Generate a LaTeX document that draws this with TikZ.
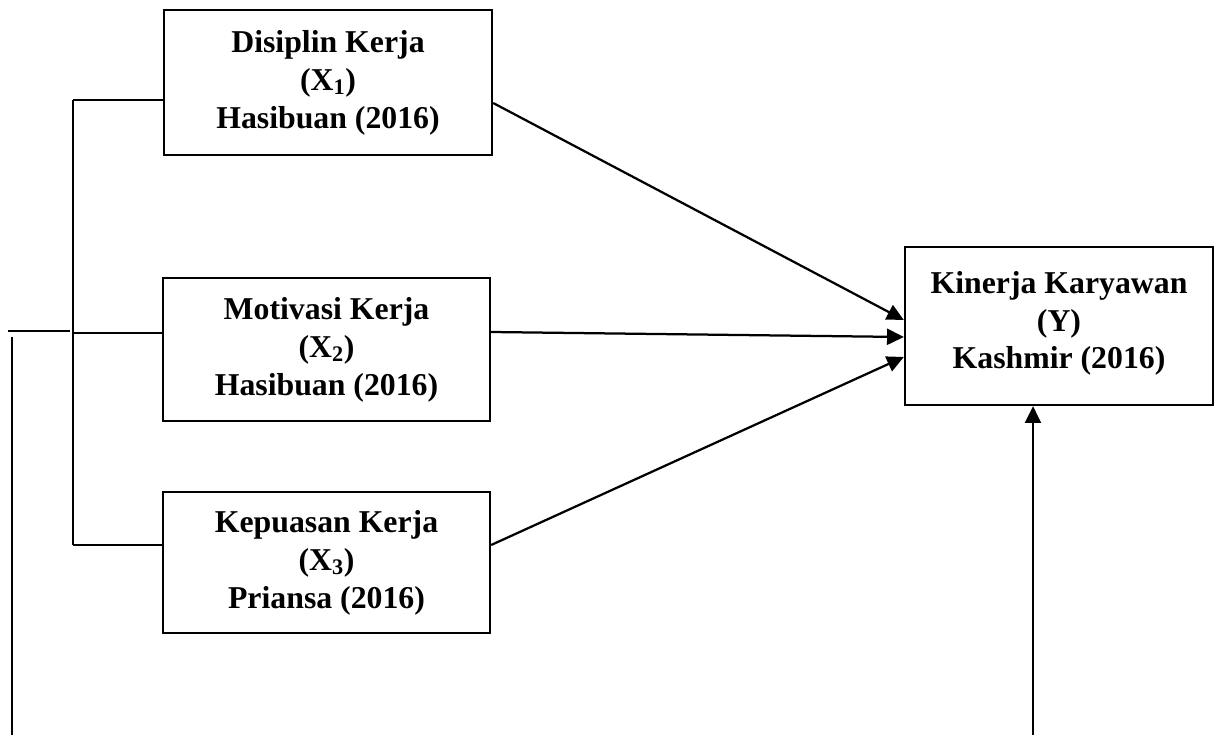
\documentclass[tikz,border=0pt]{standalone}
\usepackage{fontspec}
\setmainfont{Liberation Serif}
\usepackage{tikz}
\usetikzlibrary{calc, arrows.meta}

\begin{document}
\begin{tikzpicture}[x=0.025cm, y=-0.025cm, line width=1.6pt,
        var/.style={draw, align=center, inner sep=0pt,
            font=\bfseries\fontsize{22.6}{27}\selectfont},
        pijl/.style={-{Triangle[length=0.42cm, width=0.4cm]}}]
        \useasboundingbox (0,0) rectangle (1218,735);

        \node[var, minimum width=8.2cm, minimum height=3.625cm] (X1) at (328, 82.5) {Disiplin Kerja\\(X\textsubscript{1})\\Hasibuan (2016)};
        \node[var, minimum width=8.175cm, minimum height=3.575cm] (X2) at (326.5, 349.5) {Motivasi Kerja\\(X\textsubscript{2})\\Hasibuan (2016)};
        \node[var, minimum width=8.175cm, minimum height=3.525cm] (X3) at (326.5, 562.5) {Kepuasan Kerja\\(X\textsubscript{3})\\Priansa (2016)};
        \node[var, minimum width=7.7cm, minimum height=3.95cm, text depth=0.3cm] (Y) at (1059, 326) {Kinerja Karyawan\\(Y)\\Kashmir (2016)};

        \coordinate (K1) at (73, 100);
        \coordinate (K2) at (73, 333);
        \coordinate (K3) at (73, 545);
        \coordinate (L1) at (8, 331);
        \coordinate (L2) at (70, 331);
        \coordinate (V1) at (12, 337);
        \coordinate (V2) at (12, 735);
        \coordinate (U) at (1033, 735);

        \draw (K1) -- (K3);
        \draw (K1) -- (K1 -| X1.west);
        \draw (K2) -- (K2 -| X2.west);
        \draw (K3) -- (K3 -| X3.west);
        \draw (L1) -- (L2);
        \draw (V1) -- (V2);

        \draw[pijl] ($(X1.east)+(0,20.5)$) -- ($(Y.west)+(0,-6)$);
        \draw[pijl] ($(X2.east)+(0,-17.5)$) -- ($(Y.west)+(0,11)$);
        \draw[pijl] ($(X3.east)+(0,-17.5)$) -- ($(Y.west)+(0,31)$);
        \draw[pijl] (U) -- (U |- Y.south);
    \end{tikzpicture}
\end{document}
